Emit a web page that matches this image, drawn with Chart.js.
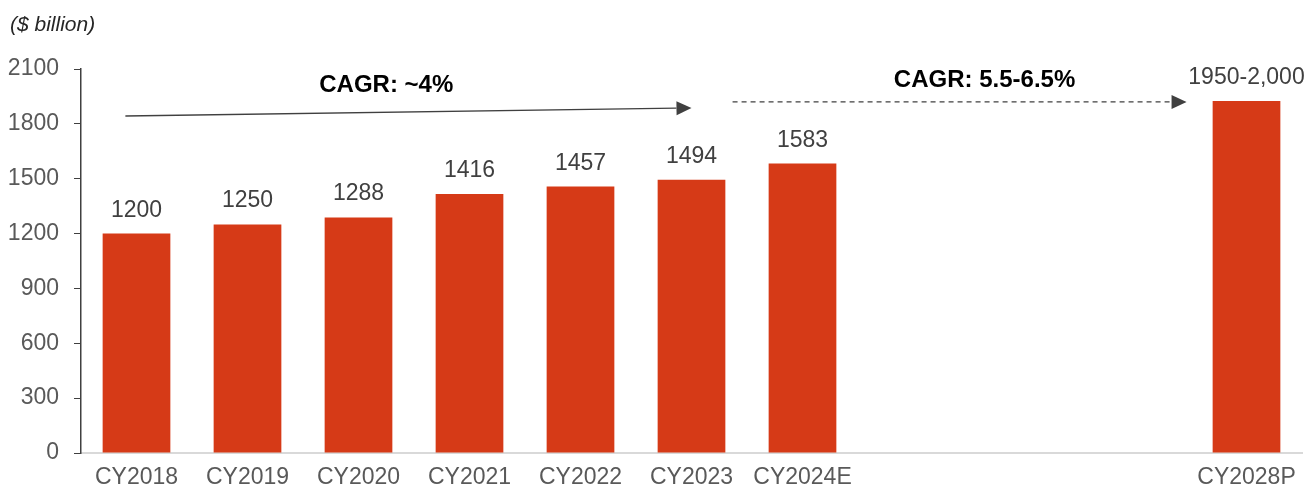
<!DOCTYPE html>
<html>
<head>
<meta charset="utf-8">
<script src="https://cdn.jsdelivr.net/npm/chart.js@4/dist/chart.umd.min.js"></script>
<style>
  html, body { margin: 0; padding: 0; background: #fff; }
  #wrap { position: relative; width: 1310px; height: 490px; }
  #title { position: absolute; left: 10px; top: 12px; font: italic 21px "Liberation Sans", Arial, sans-serif; color: #262626; }
</style>
</head>
<body>
<div id="wrap">
  <div id="title">($ billion)</div>
  <canvas id="c" width="1310" height="490"></canvas>
</div>
<script>
const categories = ['CY2018', 'CY2019', 'CY2020', 'CY2021', 'CY2022', 'CY2023', 'CY2024E', '', '', '', 'CY2028P'];
const values = [1200, 1250, 1288, 1416, 1457, 1494, 1583, null, null, null, 1925];
const valueLabels = ['1200', '1250', '1288', '1416', '1457', '1494', '1583', '', '', '', '1950-2,000'];
const yTicks = [0, 300, 600, 900, 1200, 1500, 1800, 2100];
const cagrTexts = ['CAGR: ~4%', 'CAGR: 5.5-6.5%'];

const FONT = '"Liberation Sans", Arial, sans-serif';

const overlay = {
  id: 'overlay',
  afterDatasetsDraw(chart) {
    const ctx = chart.ctx;
    const x = chart.scales.x, y = chart.scales.y;
    const meta = chart.getDatasetMeta(0);
    ctx.save();
    // value labels
    ctx.font = '23px ' + FONT;
    ctx.fillStyle = '#404040';
    ctx.textAlign = 'center';
    ctx.textBaseline = 'alphabetic';
    meta.data.forEach((bar, i) => {
      if (values[i] == null) return;
      ctx.fillText(valueLabels[i], bar.x, bar.y - 17);
    });
    // arrows
    const px = v => x.getPixelForValue(v);
    function arrow(x1, y1, x2, y2, dashed) {
      ctx.save();
      ctx.strokeStyle = '#404040';
      ctx.fillStyle = '#404040';
      ctx.lineWidth = 1.3;
      const ang = Math.atan2(y2 - y1, x2 - x1);
      const hl = 15, hw = 7;
      const bx = x2 - hl * Math.cos(ang), by = y2 - hl * Math.sin(ang);
      if (dashed) ctx.setLineDash([5, 4]);
      ctx.beginPath(); ctx.moveTo(x1, y1); ctx.lineTo(bx, by); ctx.stroke();
      ctx.setLineDash([]);
      ctx.beginPath();
      ctx.moveTo(x2, y2);
      ctx.lineTo(bx + hw * Math.sin(ang), by - hw * Math.cos(ang));
      ctx.lineTo(bx - hw * Math.sin(ang), by + hw * Math.cos(ang));
      ctx.closePath(); ctx.fill();
      ctx.restore();
    }
    arrow(px(-0.1), y.getPixelForValue(1843), px(5.0), y.getPixelForValue(1887), false);
    arrow(px(5.37), y.getPixelForValue(1920), px(9.46), y.getPixelForValue(1920), true);
    ctx.font = 'bold 24px ' + FONT;
    ctx.fillStyle = '#000000';
    ctx.textBaseline = 'middle';
    ctx.fillText(cagrTexts[0], px(2.25), y.getPixelForValue(2008));
    ctx.fillText(cagrTexts[1], px(7.64), y.getPixelForValue(2040));
    ctx.restore();
  }
};

new Chart(document.getElementById('c'), {
  type: 'bar',
  data: {
    labels: categories,
    datasets: [{
      data: values,
      backgroundColor: '#D63A17',
      borderWidth: 0,
      categoryPercentage: 1,
      barPercentage: 0.61
    }]
  },
  options: {
    responsive: false,
    animation: false,
    devicePixelRatio: 1,
    layout: { padding: { top: 69, right: 8, left: 0, bottom: 0 } },
    plugins: { legend: { display: false }, tooltip: { enabled: false } },
    scales: {
      x: {
        grid: { display: false, drawTicks: false },
        border: { display: true, color: '#d9d9d9', width: 2 },
        ticks: { color: '#595959', font: { family: FONT, size: 23 }, padding: 11, maxRotation: 0, autoSkip: false },
        afterFit: s => { s.height = 37; }
      },
      y: {
        min: 0, max: 2100,
        afterBuildTicks: s => { s.ticks = yTicks.map(v => ({ value: v })); },
        grid: { drawOnChartArea: false, drawTicks: true, tickLength: 7, color: '#404040', tickColor: '#404040' },
        border: { display: true, color: '#404040', width: 1.5 },
        ticks: { color: '#595959', font: { family: FONT, size: 23 }, padding: 15, callback: v => String(v) },
        afterFit: s => { s.width = 81; }
      }
    }
  },
  plugins: [overlay]
});
</script>
</body>
</html>
